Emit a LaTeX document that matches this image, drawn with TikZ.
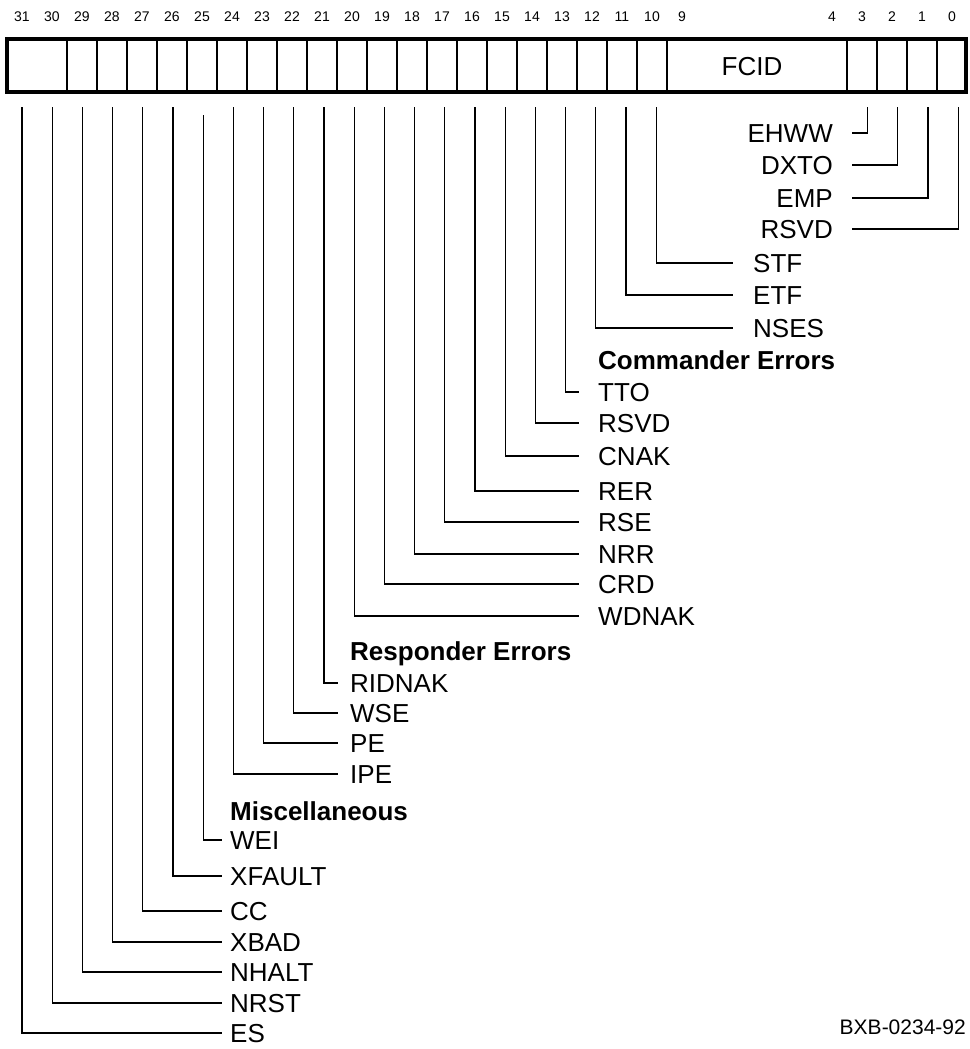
\documentclass[tikz,border=0pt]{standalone}
\usepackage{fontspec}
\setmainfont{Liberation Sans}
\usetikzlibrary{positioning,calc}

\begin{document}
\begin{tikzpicture}[x=1pt,y=-1pt,
  lbl/.style={inner sep=0pt,text height=18.6pt,text depth=0pt,
              font=\fontsize{26}{30}\selectfont},
  hdr/.style={lbl,font=\fontsize{26}{30}\selectfont\bfseries},
  bitno/.style={inner sep=0pt,font=\fontsize{14}{16}\selectfont},
  cell/.style={line width=1.1pt},
  lead/.style={line width=1.1pt}]
\useasboundingbox (0,0) rectangle (969,1049);
\foreach \b in {29,...,9,3,2,1,0}
  \draw[cell] ({7+30*(31-\b)},39) -- ({7+30*(31-\b)},92);
\node[draw,line width=4pt,inner sep=0pt,minimum width=959pt,minimum height=53pt]
  (reg) at (486.5,65.5) {};
\node[lbl] (fcid) at (752,66) {FCID};
\foreach \b in {31,...,10,9,4,3,2,1,0}
  \node[bitno] (n\b) at ({22+30*(31-\b)},17) {\b};
\foreach \b in {31,...,0}
  \coordinate (t\b) at ({22+30.2*(31-\b)},107);
\coordinate (t25) at ({22+30.2*6},115);
\node[lbl,anchor=east] (ehww) at (833,133) {EHWW};
\node[lbl,anchor=east] (dxto) at (833,165) {DXTO};
\node[lbl,anchor=east] (emp) at (833,198) {EMP};
\node[lbl,anchor=east] (rsvdz) at (833,229) {RSVD};
\node[lbl,anchor=west] (stf) at (753,263) {STF};
\node[lbl,anchor=west] (etf) at (753,295) {ETF};
\node[lbl,anchor=west] (nses) at (753,328) {NSES};
\node[hdr,anchor=west] (cmd) at (598,360) {Commander Errors};
\node[lbl,anchor=west] (tto) at (598,392) {TTO};
\node[lbl,anchor=west] (rsvdf) at (598,423) {RSVD};
\node[lbl,anchor=west] (cnak) at (598,456) {CNAK};
\node[lbl,anchor=west] (rer) at (598,491) {RER};
\node[lbl,anchor=west] (rse) at (598,522) {RSE};
\node[lbl,anchor=west] (nrr) at (598,554) {NRR};
\node[lbl,anchor=west] (crd) at (598,584) {CRD};
\node[lbl,anchor=west] (wdnak) at (598,616) {WDNAK};
\node[hdr,anchor=west] (rsp) at (350,651) {Responder Errors};
\node[lbl,anchor=west] (ridnak) at (350,683) {RIDNAK};
\node[lbl,anchor=west] (wse) at (350,713) {WSE};
\node[lbl,anchor=west] (pe) at (350,743) {PE};
\node[lbl,anchor=west] (ipe) at (350,774) {IPE};
\node[hdr,anchor=west] (misc) at (230,811) {Miscellaneous};
\node[lbl,anchor=west] (wei) at (230,840) {WEI};
\node[lbl,anchor=west] (xfault) at (230,876) {XFAULT};
\node[lbl,anchor=west] (cc) at (230,911) {CC};
\node[lbl,anchor=west] (xbad) at (230,942) {XBAD};
\node[lbl,anchor=west] (nhalt) at (230,972) {NHALT};
\node[lbl,anchor=west] (nrst) at (230,1003) {NRST};
\node[lbl,anchor=west] (es) at (230,1033) {ES};
\node[inner sep=0pt,anchor=east,font=\fontsize{21}{24}\selectfont] (fig) at (966,1027) {BXB-0234-92};
\draw[lead,shorten >=19pt] (t3) |- (ehww.east);\draw[lead,shorten >=19pt] (t2) |- (dxto.east);
\draw[lead,shorten >=19pt] (t1) |- (emp.east);\draw[lead,shorten >=19pt] (t0) |- (rsvdz.east);
\draw[lead,shorten >=20pt] (t10) |- (stf.west);\draw[lead,shorten >=20pt] (t11) |- (etf.west);
\draw[lead,shorten >=20pt] (t12) |- (nses.west);
\draw[lead,shorten >=19pt] (t13) |- (tto.west);\draw[lead,shorten >=19pt] (t14) |- (rsvdf.west);
\draw[lead,shorten >=19pt] (t15) |- (cnak.west);\draw[lead,shorten >=19pt] (t16) |- (rer.west);
\draw[lead,shorten >=19pt] (t17) |- (rse.west);\draw[lead,shorten >=19pt] (t18) |- (nrr.west);
\draw[lead,shorten >=19pt] (t19) |- (crd.west);\draw[lead,shorten >=19pt] (t20) |- (wdnak.west);
\draw[lead,shorten >=12pt] (t21) |- (ridnak.west);\draw[lead,shorten >=12pt] (t22) |- (wse.west);
\draw[lead,shorten >=12pt] (t23) |- (pe.west);\draw[lead,shorten >=12pt] (t24) |- (ipe.west);
\draw[lead,shorten >=8pt] (t25) |- (wei.west);\draw[lead,shorten >=8pt] (t26) |- (xfault.west);
\draw[lead,shorten >=8pt] (t27) |- (cc.west);\draw[lead,shorten >=8pt] (t28) |- (xbad.west);
\draw[lead,shorten >=8pt] (t29) |- (nhalt.west);\draw[lead,shorten >=8pt] (t30) |- (nrst.west);
\draw[lead,shorten >=8pt] (t31) |- (es.west);
\end{tikzpicture}
\end{document}
